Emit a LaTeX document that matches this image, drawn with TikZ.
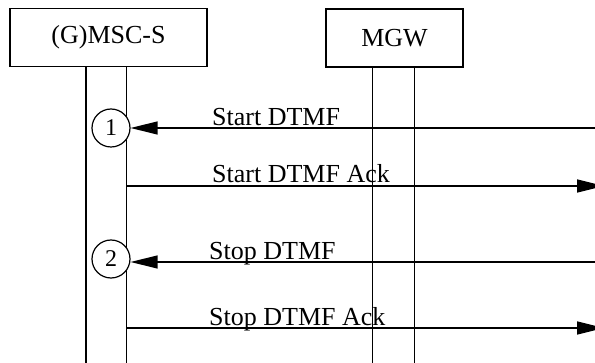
\documentclass[tikz,border=0pt]{standalone}
\usepackage{fontspec}
\setmainfont{Liberation Serif}
\usetikzlibrary{arrows.meta}
\begin{document}
\begin{tikzpicture}[x=1pt,y=1pt,
  entity/.style={draw, line width=1.5pt, minimum width=#1, minimum height=58pt, inner sep=0pt, font=\fontsize{26}{30}\selectfont},
  lifeline/.style={line width=1.5pt},
  marker/.style={circle, draw, fill=white, line width=1.2pt, minimum size=38pt, inner sep=0pt, font=\fontsize{24}{28}\selectfont},
  msg/.style={line width=1.4pt, -{Triangle[length=27pt,width=13pt]}},
  lbl/.style={anchor=base west, inner sep=0pt, font=\fontsize{26}{30}\selectfont}]
\useasboundingbox (0,0) rectangle (595,-363);
\clip (0,0) rectangle (595,-363);
% entities
\node[entity=197pt] (gm) at (108.5,-37.5) {(G)MSC-S};
\node[entity=137pt] (mg) at (394.5,-38) {MGW};
% lifelines
\coordinate (gmA) at (86,-66.5);
\coordinate (gmB) at (126.7,-66.5);
\coordinate (gmAe) at (86,-370);
\coordinate (gmBe) at (126.7,-370);
\coordinate (mgA) at (372.3,-67);
\coordinate (mgB) at (414.7,-67);
\coordinate (mgAe) at (372.3,-370);
\coordinate (mgBe) at (414.7,-370);
\draw[lifeline] (gmA) -- (gmAe);
\draw[lifeline] (gmB) -- (gmBe);
\draw[lifeline] (mgA) -- (mgAe);
\draw[lifeline] (mgB) -- (mgBe);
% markers
\node[marker] (c1) at (111,-128) {1};
\node[marker] (c2) at (111,-259) {2};
% message end points
\coordinate (r1) at (596,-128);
\coordinate (s2) at (126.7,-186);
\coordinate (r2) at (604,-186);
\coordinate (r3) at (596,-262);
\coordinate (s4) at (126.7,-328);
\coordinate (r4) at (604,-328);
% messages
\draw[msg] (r1) -- (c1.east);
\draw[msg] (s2) -- (r2);
\draw[msg] (r3) -- (c2.east |- r3);
\draw[msg] (s4) -- (r4);
% labels
\node[lbl] (l1) at (212,-126) {Start DTMF};
\node[lbl] (l2) at (212,-183) {Start DTMF Ack};
\node[lbl] (l3) at (209,-260) {Stop DTMF};
\node[lbl] (l4) at (209,-326) {Stop DTMF Ack};
\end{tikzpicture}
\end{document}
